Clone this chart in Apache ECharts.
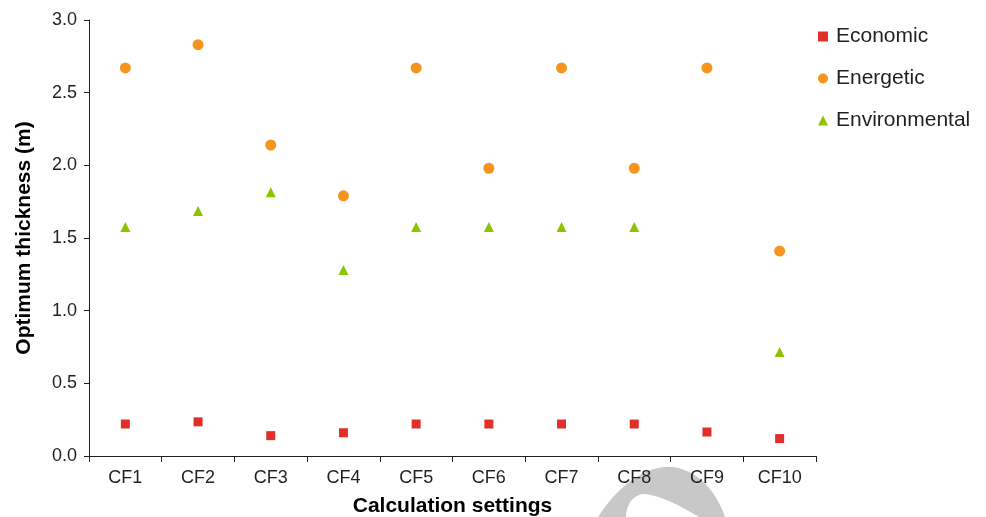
<!DOCTYPE html>
<html>
<head>
<meta charset="utf-8">
<script src="https://cdn.jsdelivr.net/npm/echarts@6/dist/echarts.min.js"></script>
<style>
html,body{margin:0;padding:0;background:#fff;}
#chart{width:986px;height:517px;}
</style>
</head>
<body>
<div id="chart"></div>
<script>
var categories = ['CF1','CF2','CF3','CF4','CF5','CF6','CF7','CF8','CF9','CF10'];
var economic = [0.22, 0.235, 0.14, 0.16, 0.22, 0.22, 0.22, 0.22, 0.165, 0.12];
var energetic = [2.67, 2.83, 2.14, 1.79, 2.67, 1.98, 2.67, 1.98, 2.67, 1.41];
var environmental = [1.575, 1.685, 1.815, 1.28, 1.575, 1.575, 1.575, 1.575, null, 0.715];
var yTicks = [0, 0.5, 1.0, 1.5, 2.0, 2.5, 3.0];

var FONT = '"Liberation Sans", Arial, Helvetica, sans-serif';
var TXT = '#231F20';

// decorative watermark outline (cubic bezier segments sampled into a polygon)
function bez(p0, p1, p2, p3, n) {
  var out = [];
  for (var i = 0; i <= n; i++) {
    var t = i / n, u = 1 - t;
    out.push([
      u*u*u*p0[0] + 3*u*u*t*p1[0] + 3*u*t*t*p2[0] + t*t*t*p3[0],
      u*u*u*p0[1] + 3*u*u*t*p1[1] + 3*u*t*t*p2[1] + t*t*t*p3[1]
    ]);
  }
  return out;
}
var wm = [].concat(
  bez([598,517],[621,481],[650,465],[672,467],20),
  bez([672,467],[700,470],[717,494],[725,517],20),
  [[699,517]],
  bez([699,517],[684,508],[661,495],[644,494],20),
  bez([644,494],[632,495],[626,506],[626,517],20)
);

var chart = echarts.init(document.getElementById('chart'), null, {renderer: 'canvas'});
chart.setOption({
  animation: false,
  backgroundColor: '#fff',
  textStyle: {fontFamily: FONT, color: TXT},
  grid: {left: 89, right: 170, top: 20, bottom: 61, containLabel: false, outerBoundsMode: 'none'},
  legend: {
    orient: 'vertical',
    left: 818, top: 26, padding: 0,
    itemWidth: 10, itemHeight: 10, itemGap: 21,
    textStyle: {fontFamily: FONT, fontSize: 21, color: TXT, padding: [0,0,0,3]},
    data: [
      {name: 'Economic', icon: 'rect'},
      {name: 'Energetic', icon: 'circle'},
      {name: 'Environmental', icon: 'triangle'}
    ]
  },
  graphic: [{
    type: 'polygon', z: -10, silent: true,
    shape: {points: wm},
    style: {fill: '#C8C8C8'}
  }],
  xAxis: {
    type: 'category',
    data: categories,
    boundaryGap: true,
    name: 'Calculation settings',
    nameLocation: 'middle',
    nameGap: 40,
    nameTextStyle: {fontFamily: FONT, fontSize: 21, fontWeight: 'bold', color: '#000'},
    axisLine: {lineStyle: {color: '#231F20', width: 1}},
    axisTick: {show: true, length: 6, alignWithLabel: false, lineStyle: {color: '#231F20'}},
    axisLabel: {fontFamily: FONT, fontSize: 18, color: TXT, margin: 13},
    splitLine: {show: false}
  },
  yAxis: {
    type: 'value',
    min: 0, max: 3, interval: 0.5,
    name: 'Optimum thickness (m)',
    nameLocation: 'middle',
    nameGap: 54,
    nameTextStyle: {fontFamily: FONT, fontSize: 21, fontWeight: 'bold', color: '#000'},
    axisLine: {show: true, lineStyle: {color: '#231F20', width: 1}},
    axisTick: {show: true, length: 5, lineStyle: {color: '#231F20'}},
    axisLabel: {fontFamily: FONT, fontSize: 18, color: TXT, margin: 12,
      formatter: function(v){ return v.toFixed(1); }},
    splitLine: {show: false}
  },
  series: [
    {name: 'Economic', type: 'scatter', data: economic, symbol: 'rect', symbolSize: 9,
     itemStyle: {color: '#E1302A', opacity: 1}},
    {name: 'Energetic', type: 'scatter', data: energetic, symbol: 'circle', symbolSize: 11,
     itemStyle: {color: '#F7941D', opacity: 1}},
    {name: 'Environmental', type: 'scatter', data: environmental, symbol: 'triangle', symbolSize: 10,
     itemStyle: {color: '#8DC400', opacity: 1}}
  ]
});
</script>
</body>
</html>
